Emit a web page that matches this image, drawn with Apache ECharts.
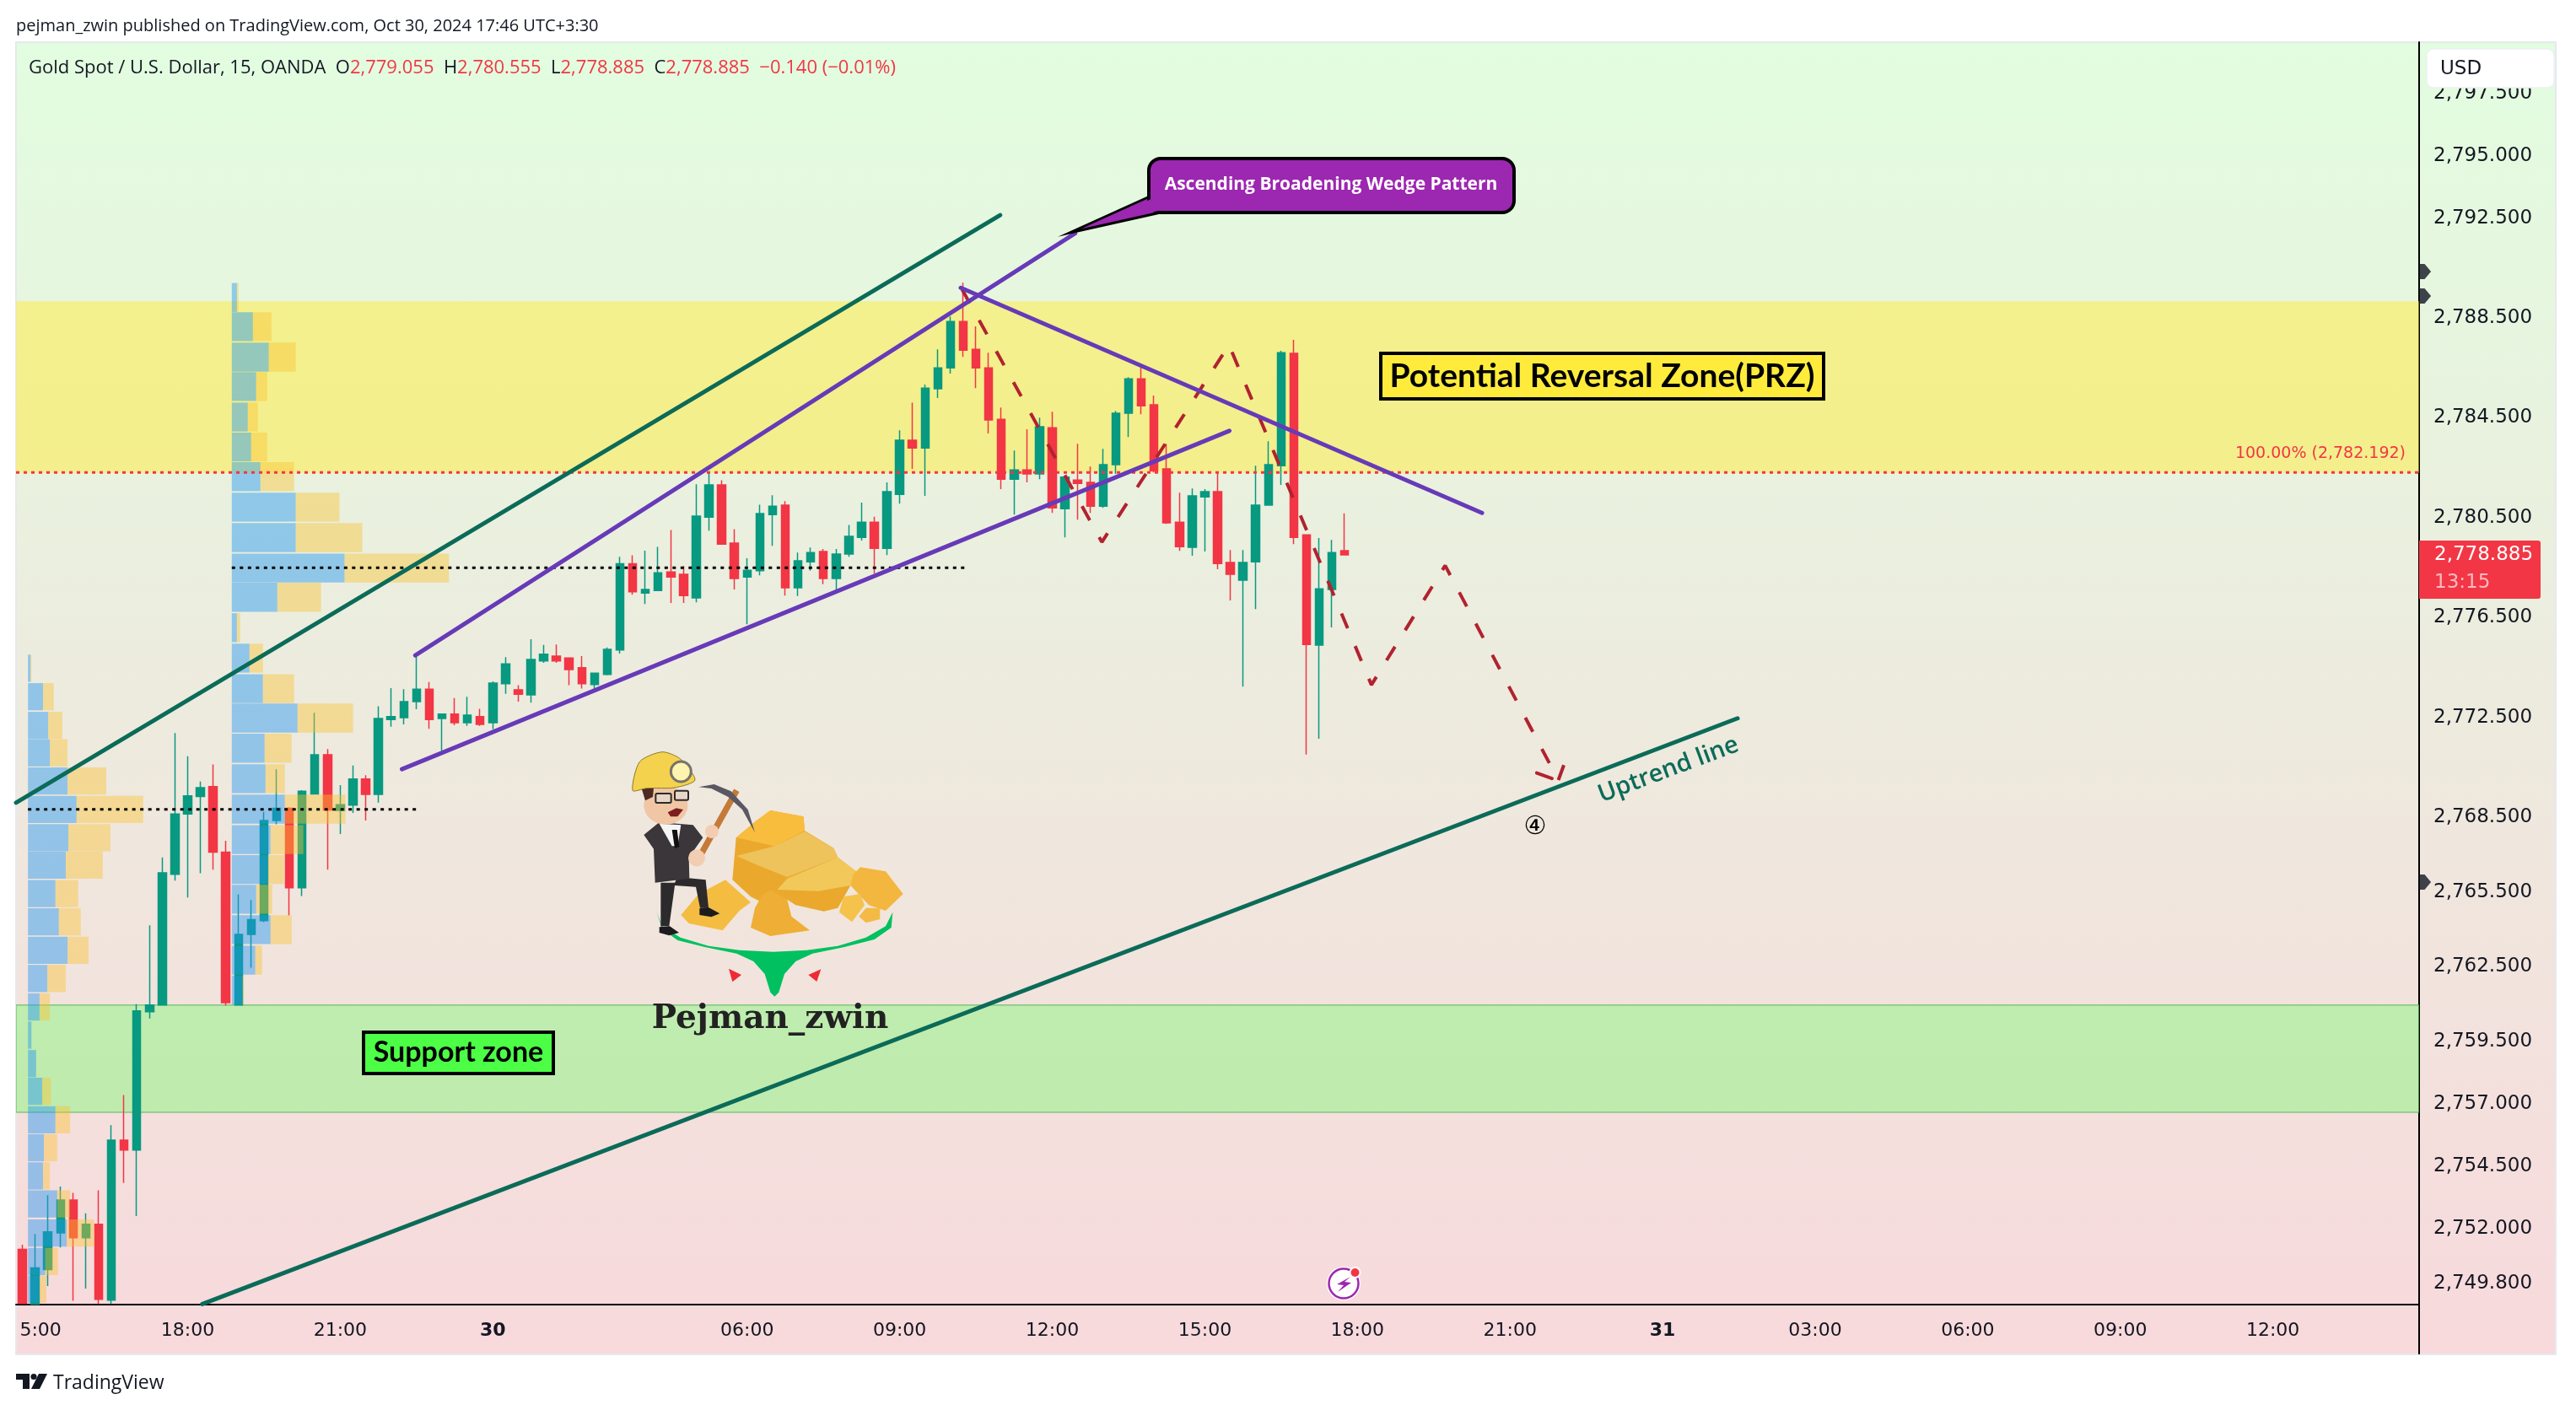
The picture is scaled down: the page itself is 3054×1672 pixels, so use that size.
<!DOCTYPE html>
<html lang="en">
<head>
<meta charset="UTF-8">
<title>Gold Spot / U.S. Dollar, 15, OANDA</title>
<script src="https://cdn.jsdelivr.net/npm/echarts@6/dist/echarts.min.js"></script>
<style>html,body{margin:0;padding:0;background:#fff}</style>
</head>
<body>
<div id="main" style="width:3054px;height:1672px;"></div>
<script>
// 15 minute bars: open, close, low, high
const ohlc = [
  [2751.06,2748.90,2748.87,2751.25],[2748.87,2750.32,2748.87,2751.68],[2750.25,2751.76,2749.59,2753.23],[2751.72,2753.04,2751.14,2753.58],
  [2753.04,2751.53,2749.00,2753.33],[2751.53,2752.07,2749.49,2752.51],[2752.07,2749.06,2748.87,2753.43],[2749.03,2755.44,2748.87,2756.04],
  [2755.44,2755.04,2753.72,2757.25],[2755.04,2760.62,2752.40,2760.89],[2760.58,2760.85,2760.31,2764.05],[2760.85,2766.15,2760.85,2766.77],
  [2766.09,2768.51,2765.84,2771.75],[2768.51,2769.23,2765.16,2770.82],[2769.21,2769.56,2766.13,2769.81],[2769.60,2766.98,2766.28,2770.49],
  [2766.98,2760.95,2760.83,2767.43],[2760.85,2763.68,2760.83,2765.29],[2763.68,2764.27,2762.35,2765.06],[2764.23,2768.24,2764.17,2768.59],
  [2768.24,2768.73,2768.09,2770.30],[2768.73,2765.55,2764.44,2768.78],[2765.55,2769.42,2765.22,2769.46],[2769.31,2770.88,2769.29,2772.56],
  [2770.88,2768.67,2766.28,2771.11],[2768.65,2768.88,2767.70,2769.66],[2768.86,2769.91,2768.55,2770.45],[2769.91,2769.29,2768.24,2770.06],
  [2769.29,2772.33,2768.96,2772.82],[2772.29,2772.41,2772.00,2773.55],[2772.37,2773.01,2772.10,2773.51],[2773.01,2773.51,2772.70,2774.87],
  [2773.51,2772.29,2771.92,2773.79],[2772.33,2772.51,2771.05,2772.51],[2772.51,2772.16,2772.06,2773.15],[2772.16,2772.47,2772.04,2773.20],
  [2772.41,2772.10,2772.04,2772.72],[2772.16,2773.75,2771.90,2773.82],[2773.73,2774.52,2773.32,2774.79],[2773.48,2773.30,2773.01,2773.67],
  [2773.28,2774.70,2772.97,2775.51],[2774.64,2774.91,2774.56,2775.28],[2774.83,2774.64,2774.56,2775.30],[2774.76,2774.29,2773.67,2774.78],
  [2774.37,2773.73,2773.53,2774.83],[2773.69,2774.15,2773.50,2774.15],[2774.10,2775.10,2774.06,2775.18],[2775.08,2778.53,2774.93,2778.81],
  [2778.53,2777.41,2777.29,2778.87],[2777.36,2777.50,2776.92,2779.06],[2777.46,2778.17,2777.46,2779.21],[2778.20,2778.00,2776.96,2779.88],
  [2778.11,2777.26,2776.96,2778.44],[2777.16,2780.44,2776.99,2781.72],[2780.40,2781.69,2779.86,2782.19],[2781.69,2779.32,2779.32,2781.88],
  [2779.36,2777.94,2777.50,2779.92],[2778.00,2778.27,2776.11,2778.75],[2778.25,2780.54,2778.07,2780.90],[2780.50,2780.84,2779.25,2781.28],
  [2780.88,2777.57,2777.26,2781.04],[2777.57,2778.65,2777.24,2778.98],[2778.61,2778.98,2778.25,2779.18],[2779.02,2777.94,2777.71,2779.12],
  [2777.94,2778.92,2777.46,2779.12],[2778.92,2779.63,2778.81,2780.09],[2779.59,2780.20,2779.46,2780.98],[2780.20,2779.15,2778.14,2780.42],
  [2779.15,2781.42,2778.88,2781.79],[2781.31,2783.48,2780.94,2783.88],[2783.48,2783.17,2782.33,2784.99],[2783.17,2785.57,2781.25,2785.71],
  [2785.54,2786.38,2785.17,2787.12],[2786.38,2788.24,2786.15,2788.44],[2788.24,2787.09,2786.82,2789.79],[2787.12,2786.38,2785.57,2788.04],
  [2786.38,2784.29,2783.75,2786.99],[2784.32,2781.92,2781.52,2784.79],[2781.92,2782.29,2780.50,2783.07],[2782.29,2782.13,2781.79,2783.92],
  [2782.13,2784.02,2781.92,2784.39],[2783.98,2780.77,2780.57,2784.62],[2780.74,2782.00,2779.59,2782.00],[2781.89,2781.75,2780.30,2783.34],
  [2781.79,2780.84,2780.57,2782.43],[2780.84,2782.50,2780.77,2783.14],[2782.50,2784.56,2782.13,2784.66],[2784.56,2785.94,2783.61,2786.01],
  [2785.94,2784.86,2784.52,2786.42],[2784.90,2782.26,2782.19,2785.27],[2782.33,2780.17,2780.13,2783.34],[2780.20,2779.22,2779.05,2781.38],
  [2779.19,2781.25,2778.85,2781.55],[2781.21,2781.42,2779.02,2781.52],[2781.42,2778.54,2778.31,2782.19],[2778.58,2778.11,2777.06,2779.08],
  [2777.87,2778.58,2773.61,2779.08],[2778.61,2780.88,2776.72,2782.46],[2780.88,2782.50,2780.88,2783.44],[2782.46,2786.99,2781.69,2787.06],
  [2786.96,2779.59,2779.32,2787.50],[2779.69,2775.30,2770.89,2779.69],[2775.27,2777.53,2771.52,2779.56],[2777.50,2778.98,2775.98,2779.49],
  [2779.055,2778.885,2778.885,2780.555]
];

const barCount = 189;
const timeTickBars = [1, 13, 25, 37, 57, 69, 81, 93, 105, 117, 129, 141, 153, 165, 177];
const timeTickLabels = ['5:00', '18:00', '21:00', '30', '06:00', '09:00', '12:00', '15:00', '18:00', '21:00', '31', '03:00', '06:00', '09:00', '12:00'];
const priceTicks = [2797.5, 2795, 2792.5, 2788.5, 2784.5, 2780.5, 2776.5, 2772.5, 2768.5, 2765.5, 2762.5, 2759.5, 2757, 2754.5, 2752, 2749.8];

const lastPrice = 2778.885;
const fibPrice = 2782.192;
const axisArrowPrices = [2790.24, 2789.26, 2765.78];

const reversalZone = [2789.05, 2782.17];
const supportZone = [2760.85, 2756.55];

// session volume profile, rows top down: row top price, buy and sell volume (in bar widths)
const leftProfileTop = [2774.89,2773.75,2772.60,2771.50,2770.37,2769.23,2768.10,2767.00,2765.86,2764.73,2763.59,2762.46,2761.32,2760.19,2759.05,2757.94,2756.80,2755.68,2754.55,2753.43,2752.26,2751.12,2750.01];
const leftProfileBuy = [0.20,1.18,1.59,1.72,3.11,3.82,3.18,2.97,2.16,2.43,3.11,1.52,0.91,0.27,0.64,1.12,2.16,1.25,1.18,2.30,3.04,1.35,0.91];
const leftProfileSell = [0.07,0.84,1.11,1.39,3.04,5.24,3.31,2.91,1.79,1.72,1.66,1.45,0.81,0,0,0.68,1.15,1.05,0.54,1.01,2.16,1.01,0.54];
const rightProfileTop = [2789.78,2788.61,2787.39,2786.21,2784.99,2783.79,2782.60,2781.38,2780.16,2778.94,2777.77,2776.55,2775.33,2774.11,2772.93,2771.72,2770.50,2769.28,2768.06,2766.86,2765.67,2764.45,2763.23,2762.03];
const rightProfileBuy = [0.40,1.66,2.91,1.92,1.26,1.52,2.25,5.03,5.03,8.87,3.58,0.40,1.39,2.45,5.17,2.58,2.65,4.17,3.05,2.85,1.92,3.05,1.85,0.84];
const rightProfileSell = [0.13,1.46,2.12,0.86,0.79,1.26,2.65,3.44,5.23,8.21,3.44,0.26,1.06,2.45,4.37,2.12,1.52,4.77,2.58,1.26,1.26,1.66,0.53,0.09];

// drawings as [bar, price]
const leftPoc = [[0.44, 2768.69], [31, 2768.69]];
const rightPoc = [[16.47, 2778.37], [74.45, 2778.37]];
const channelTop = [[-0.5, 2768.96], [76.9, 2792.5]];
const uptrend = [[14.15, 2748.87], [134.9, 2772.34]];
const wedgeTop = [[30.9, 2774.86], [82.8, 2791.77]];
const wedgeBottom = [[29.85, 2770.3], [94.93, 2783.86]];
const fallingLine = [[73.8, 2789.59], [114.8, 2780.57]];
const projectedPath = [[73.9, 2789.53], [84.9, 2779.4], [94.9, 2787.3], [106.1, 2773.68], [111.9, 2778.46], [120.8, 2769.86], [121.4, 2770.7]];
const arrowWing = [[119.1, 2770.15], [120.3, 2769.93]];

const UP = '#089981', DOWN = '#f23645', INK = '#131722';
const AXIS_FONT = '"DejaVu Sans"';
const UI_FONT = '"Open Sans"';

const categories = new Array(barCount).fill('');
timeTickBars.forEach(function (b, i) {
  const isDay = timeTickLabels[i].length === 2;
  categories[b] = {
    value: timeTickLabels[i],
    textStyle: { fontWeight: isDay ? 'bold' : 'normal', padding: b === 1 ? [0, 0, 0, 13] : 0 }
  };
});

const chart = echarts.init(document.getElementById('main'));

function rectSeries(rows, fill, z, stroke) {
  return {
    type: 'custom',
    xAxisIndex: 1,
    z: z,
    silent: true,
    clip: true,
    data: rows,
    encode: { x: [0, 1], y: [2, 3] },
    renderItem: function (params, api) {
      const a = api.coord([api.value(0), api.value(2)]);
      const b = api.coord([api.value(1), api.value(3)]);
      return {
        type: 'rect',
        shape: { x: a[0], y: a[1], width: b[0] - a[0], height: b[1] - a[1] },
        style: { fill: fill, stroke: stroke || null, lineWidth: stroke ? 1.5 : 0 }
      };
    }
  };
}

function profileRows(tops, buy, sell, base, rowHeight) {
  const buyRows = [], sellRows = [];
  tops.forEach(function (top, i) {
    buyRows.push([base, base + buy[i], top, top - rowHeight]);
    if (sell[i] > 0) sellRows.push([base + buy[i], base + buy[i] + sell[i], top, top - rowHeight]);
  });
  return [buyRows, sellRows];
}

function lineSeries(points, color, width, dash, z) {
  return {
    type: 'line',
    xAxisIndex: 1,
    data: points,
    symbol: 'none',
    silent: true,
    z: z || 6,
    clip: true,
    lineStyle: { color: color, width: width, type: dash || 'solid', cap: dash ? 'butt' : 'round' }
  };
}

const leftRows = profileRows(leftProfileTop, leftProfileBuy, leftProfileSell, 0.44, 1.09);
const rightRows = profileRows(rightProfileTop, rightProfileBuy, rightProfileSell, 16.47, 1.16);
const VP_BUY = 'rgba(33,150,243,0.45)', VP_SELL = 'rgba(251,192,45,0.42)';
const GREEN_LINE = '#0b6b58', PURPLE = '#673ab7', PATH_RED = '#b2222f';

const series = [
  rectSeries([[-0.5, 188.5, reversalZone[0], reversalZone[1]]], 'rgba(255,235,59,0.5)', 1),
  rectSeries([[-0.5, 188.5, supportZone[0], supportZone[1]]], 'rgba(139,245,130,0.5)', 1, 'rgba(76,175,80,0.6)'),
  {
    type: 'candlestick',
    data: ohlc,
    barWidth: 10,
    clip: true,
    silent: true,
    z: 2,
    itemStyle: { color: UP, color0: DOWN, borderColor: UP, borderColor0: DOWN, borderWidth: 1.5 }
  },
  rectSeries(leftRows[0], VP_BUY, 3),
  rectSeries(leftRows[1], VP_SELL, 3),
  rectSeries(rightRows[0], VP_BUY, 3),
  rectSeries(rightRows[1], VP_SELL, 3),
  lineSeries([[-0.5, fibPrice], [188.5, fibPrice]], DOWN, 3, [4, 5], 4),
  lineSeries(leftPoc, '#000', 3, [4, 5.5], 4),
  lineSeries(rightPoc, '#000', 3, [4, 5.5], 4),
  lineSeries(channelTop, GREEN_LINE, 5),
  lineSeries(uptrend, GREEN_LINE, 5),
  lineSeries(projectedPath, PATH_RED, 4, [19, 23], 5),
  lineSeries(arrowWing, PATH_RED, 4, null, 5),
  lineSeries(wedgeTop, PURPLE, 5),
  lineSeries(wedgeBottom, PURPLE, 5),
  lineSeries(fallingLine, PURPLE, 5),
  {
    type: 'scatter',
    xAxisIndex: 1,
    silent: true,
    clip: false,
    z: 8,
    symbol: 'path://M0,0 L6,0 L13,8 L6,16 L0,16 Z',
    symbolSize: [14, 18],
    symbolKeepAspect: false,
    itemStyle: { color: INK },
    data: axisArrowPrices.map(function (p) { return [188.97, p]; })
  },
  {
    type: 'custom',
    xAxisIndex: 1,
    silent: true,
    clip: false,
    z: 9,
    data: [[188.5, lastPrice]],
    renderItem: function (params, api) {
      const c = api.coord([api.value(0), api.value(1)]);
      const label = api.value(1).toLocaleString('en-US', { minimumFractionDigits: 3 });
      return {
        type: 'group',
        children: [
          { type: 'rect', shape: { x: c[0], y: c[1] - 17, width: 144, height: 69, r: [0, 3, 3, 0] }, style: { fill: DOWN } },
          { type: 'text', style: { text: label, x: c[0] + 18, y: c[1], fill: '#fff', fontFamily: AXIS_FONT, fontSize: 23, verticalAlign: 'middle' } },
          { type: 'text', style: { text: '13:15', x: c[0] + 18, y: c[1] + 33, fill: '#fbb9c0', fontFamily: AXIS_FONT, fontSize: 23, verticalAlign: 'middle' } }
        ]
      };
    }
  }
];

function text(str, x, y, size, color, font, align, z) {
  return {
    type: 'text',
    z: z || 20,
    silent: true,
    style: {
      text: str, x: x, y: y, fontSize: size, fill: color, fontFamily: font || UI_FONT, align: align || 'left', verticalAlign: 'middle'
    }
  };
}

function box(x, y, w, h, fill, label, font) {
  return [
    { type: 'rect', z: 20, silent: true, shape: { x: x, y: y, width: w, height: h }, style: { fill: fill, stroke: '#000', lineWidth: 4 } },
    { type: 'text', z: 21, silent: true, style: Object.assign({ text: label, x: x + w / 2, y: y + h / 2, fill: '#000', align: 'center', verticalAlign: 'middle' }, font) }
  ];
}

function poly(points, fill) {
  return { type: 'polygon', shape: { points: points }, style: { fill: fill } };
}

// miner sketch, in its own 3x working coordinates
const mascot = {
  type: 'group', x: 700, y: 860, scaleX: 1 / 3, scaleY: 1 / 3, z: 12, silent: true,
  children: [
    poly([[236, 665], [255, 715], [320, 755], [420, 785], [530, 800], [650, 806], [770, 800], [880, 785], [980, 755], [1050, 715], [1075, 665], [1070, 720], [1010, 762], [900, 790], [790, 812], [730, 840], [690, 885], [670, 950], [655, 965], [640, 950], [620, 885], [580, 840], [520, 812], [410, 790], [310, 765], [255, 725]], '#00c060'),
    poly([[492, 866], [537, 888], [505, 913]], '#ee2b33'),
    poly([[820, 868], [775, 888], [805, 912]], '#ee2b33'),
    poly([[640, 303], [758, 325], [762, 375], [865, 437], [880, 470], [945, 520], [925, 570], [880, 650], [830, 662], [730, 640], [700, 620], [610, 630], [570, 610], [505, 550], [518, 400], [590, 340]], '#eaa92c'),
    poly([[640, 303], [758, 325], [762, 375], [655, 430], [520, 400], [590, 340]], '#f9bd3e'),
    poly([[520, 465], [655, 430], [762, 378], [865, 437], [880, 470], [700, 540], [600, 500]], '#eec35c'),
    poly([[700, 545], [880, 470], [945, 520], [925, 570], [810, 590], [665, 585]], '#f2c85a'),
    poly([[960, 505], [1050, 520], [1112, 600], [1050, 660], [990, 640], [925, 570], [935, 530]], '#f3b73f'),
    poly([[480, 550], [570, 630], [530, 660], [470, 730], [350, 705], [322, 675], [385, 600]], '#f4bd42'),
    poly([[640, 585], [700, 620], [715, 680], [780, 730], [640, 750], [570, 720], [585, 650], [610, 605]], '#efae36'),
    poly([[900, 610], [960, 600], [975, 640], [930, 700], [885, 665]], '#f5c24c'),
    poly([[980, 650], [1030, 650], [1030, 690], [980, 703], [955, 680]], '#f3bb45'),
    poly([[250, 560], [300, 560], [310, 540], [410, 550], [420, 650], [390, 650], [375, 575], [300, 570], [280, 715], [250, 715]], '#2c2a2c'),
    poly([[245, 718], [282, 715], [315, 738], [280, 748], [245, 738]], '#1d1b1d'),
    poly([[388, 652], [420, 648], [460, 670], [430, 682], [388, 675]], '#1d1b1d'),
    poly([[190, 390], [245, 345], [365, 355], [400, 400], [350, 470], [352, 545], [230, 560], [225, 440]], '#3a3639'),
    poly([[245, 350], [322, 355], [310, 430], [290, 430]], '#f5f5f5'),
    poly([[290, 372], [308, 372], [316, 432], [300, 438]], '#111'),
    { type: 'line', shape: { x1: 390, y1: 465, x2: 520, y2: 232 }, style: { stroke: '#c57a38', lineWidth: 22 } },
    poly([[385, 220], [440, 210], [500, 235], [560, 300], [585, 382], [540, 300], [490, 255], [430, 225]], '#5b5763'),
    { type: 'circle', shape: { cx: 378, cy: 472, r: 30 }, style: { fill: '#f3cdb2' } },
    { type: 'circle', shape: { cx: 432, cy: 378, r: 24 }, style: { fill: '#f3cdb2' } },
    { type: 'ellipse', shape: { cx: 268, cy: 285, rx: 78, ry: 68 }, style: { fill: '#f1c6a5' } },
    poly([[182, 225], [225, 222], [222, 255], [195, 268]], '#4d2a22'),
    { type: 'rect', shape: { x: 232, y: 243, width: 55, height: 33, r: 5 }, style: { fill: '#e8d6c6', stroke: '#2a2a2a', lineWidth: 6 } },
    { type: 'rect', shape: { x: 300, y: 233, width: 48, height: 33, r: 5 }, style: { fill: '#e8d6c6', stroke: '#2a2a2a', lineWidth: 6 } },
    poly([[275, 310], [305, 295], [330, 300], [310, 325], [285, 325]], '#7d1d1d'),
    { type: 'polygon', shape: { points: [[150, 232], [175, 130], [255, 95], [320, 120], [372, 195], [300, 222], [200, 224]], smooth: 0.25 }, style: { fill: '#f5d24d', stroke: '#8a7a2a', lineWidth: 3 } },
    { type: 'circle', shape: { cx: 322, cy: 165, r: 36 }, style: { fill: '#fff3b0', stroke: '#77746c', lineWidth: 9 } }
  ]
};

const graphics = [
  { type: 'rect', z: -1, silent: true, shape: { x: 19, y: 50, width: 3011, height: 1556 },
    style: { stroke: '#e6e8ef', lineWidth: 2, fill: new echarts.graphic.LinearGradient(0, 0, 0, 1, [
      { offset: 0, color: '#e2fde0' }, { offset: 1, color: '#f8d9dc' }
    ]) } },
  { type: 'line', z: 7, silent: true, shape: { x1: 2868, y1: 1547, x2: 2868, y2: 1606 }, style: { stroke: '#000', lineWidth: 2 } },
  text('pejman_zwin published on TradingView.com, Oct 30, 2024 17:46 UTC+3:30', 19, 31, 20, INK),
  {
    type: 'text', z: 20, silent: true,
    style: {
      x: 34, y: 81, verticalAlign: 'middle', fontFamily: UI_FONT, fontSize: 22, fill: INK,
      text: '{d|Gold Spot / U.S. Dollar, 15, OANDA  O}{r|2,779.055}{d|  H}{r|2,780.555}{d|  L}{r|2,778.885}{d|  C}{r|2,778.885}{r|  −0.140 (−0.01%)}',
      rich: {
        d: { fill: INK, fontFamily: UI_FONT, fontSize: 22 },
        r: { fill: DOWN, fontFamily: UI_FONT, fontSize: 22 }
      }
    }
  },
  { type: 'rect', z: 15, silent: true, shape: { x: 2877, y: 58, width: 151, height: 46, r: 8 }, style: { fill: '#fff', stroke: '#eef0f5', lineWidth: 1.5 } },
  text('USD', 2893, 82, 23, INK, AXIS_FONT, 'left', 16),
  text('100.00% (2,782.192)', 2852, 538, 19, DOWN, AXIS_FONT, 'right'),
  { type: 'polygon', z: 19, silent: true, shape: { points: [[1363, 233], [1268, 276], [1380, 251]] }, style: { fill: '#9c27b0', stroke: '#000', lineWidth: 3 } },
  { type: 'rect', z: 19, silent: true, shape: { x: 1362, y: 188, width: 433, height: 64, r: 14 }, style: { fill: '#9c27b0', stroke: '#000', lineWidth: 4 } },
  { type: 'polygon', z: 19, silent: true, shape: { points: [[1364.5, 236], [1300, 266], [1378, 249]] }, style: { fill: '#9c27b0' } },
  { type: 'text', z: 21, silent: true, style: { text: 'Ascending Broadening Wedge Pattern', x: 1578, y: 219, fill: '#fff', fontFamily: UI_FONT, fontWeight: 'bold', fontSize: 21, align: 'center', verticalAlign: 'middle' } },
  { type: 'text', z: 21, silent: true, x: 1978, y: 913, rotation: 0.358, style: { text: 'Uptrend line', x: 0, y: 0, fill: GREEN_LINE, fontFamily: UI_FONT, fontWeight: 600, fontSize: 29, align: 'center', verticalAlign: 'middle' } },
  text('④', 1820, 981, 30, '#000', AXIS_FONT, 'center', 21),
  mascot,
  { type: 'text', z: 13, silent: true, style: { text: 'Pejman_zwin', x: 913, y: 1209, fill: '#222', fontFamily: '"DejaVu Serif"', fontWeight: 'bold', fontSize: 39, align: 'center', verticalAlign: 'middle' } },
  // replay marker above the time axis
  { type: 'circle', z: 20, silent: true, shape: { cx: 1593, cy: 1522, r: 20 }, style: { fill: '#fff' } },
  { type: 'circle', z: 21, silent: true, shape: { cx: 1593, cy: 1522, r: 17.5 }, style: { fill: 'none', stroke: '#9c27b0', lineWidth: 2.5 } },
  { type: 'polygon', z: 21, silent: true, shape: { points: [[1601, 1514], [1585, 1523], [1593, 1524], [1586, 1532], [1602, 1521], [1594, 1520]] }, style: { fill: '#9c27b0' } },
  { type: 'circle', z: 22, silent: true, shape: { cx: 1606.5, cy: 1509, r: 7 }, style: { fill: '#fff' } },
  { type: 'circle', z: 23, silent: true, shape: { cx: 1606.5, cy: 1509, r: 5 }, style: { fill: DOWN } },
  // TradingView logo
  { type: 'polygon', z: 20, silent: true, shape: { points: [[19, 1629], [35, 1629], [35, 1647], [27, 1647], [27, 1636], [19, 1636]] }, style: { fill: INK } },
  { type: 'circle', z: 20, silent: true, shape: { cx: 40, cy: 1632.5, r: 3.6 }, style: { fill: INK } },
  { type: 'polygon', z: 20, silent: true, shape: { points: [[46, 1629], [56, 1629], [47, 1647], [37, 1647]] }, style: { fill: INK } },
  text('TradingView', 63, 1640, 23, INK)
];
box(1637, 419, 525, 54, '#ffeb3b', 'Potential Reversal Zone(PRZ)', { fontFamily: 'Lato', fontWeight: 'bold', fontSize: 39 }).forEach(function (g) { graphics.push(g); });
box(431, 1224, 225, 49, '#4cff46', 'Support zone', { fontFamily: 'Lato', fontWeight: 'bold', fontSize: 34 }).forEach(function (g) { graphics.push(g); });

chart.setOption({
  animation: false,
  backgroundColor: '#fff',
  grid: { left: 19, top: 50, width: 2849, height: 1497, containLabel: false },
  xAxis: [
    {
      type: 'category',
      data: categories,
      boundaryGap: true,
      axisLine: { onZero: false, lineStyle: { color: '#000', width: 2 } },
      axisTick: { show: false },
      splitLine: { show: false },
      axisLabel: {
        color: INK, fontFamily: AXIS_FONT, fontSize: 22, margin: 20,
        interval: function (index, value) { return value !== ''; }
      }
    },
    { type: 'value', min: -0.5, max: 188.5, show: false }
  ],
  yAxis: {
    type: 'value',
    position: 'right',
    min: 2748.85,
    max: 2799.43,
    scale: true,
    axisLine: { show: true, onZero: false, lineStyle: { color: '#000', width: 2 } },
    axisTick: { show: false },
    splitLine: { show: false },
    axisLabel: {
      customValues: priceTicks,
      color: INK, fontFamily: AXIS_FONT, fontSize: 23, margin: 17, verticalAlign: 'top', lineHeight: 7,
      formatter: function (v) { return v.toLocaleString('en-US', { minimumFractionDigits: 3 }); }
    }
  },
  graphic: { elements: graphics },
  series: series
});
</script>
</body>
</html>
